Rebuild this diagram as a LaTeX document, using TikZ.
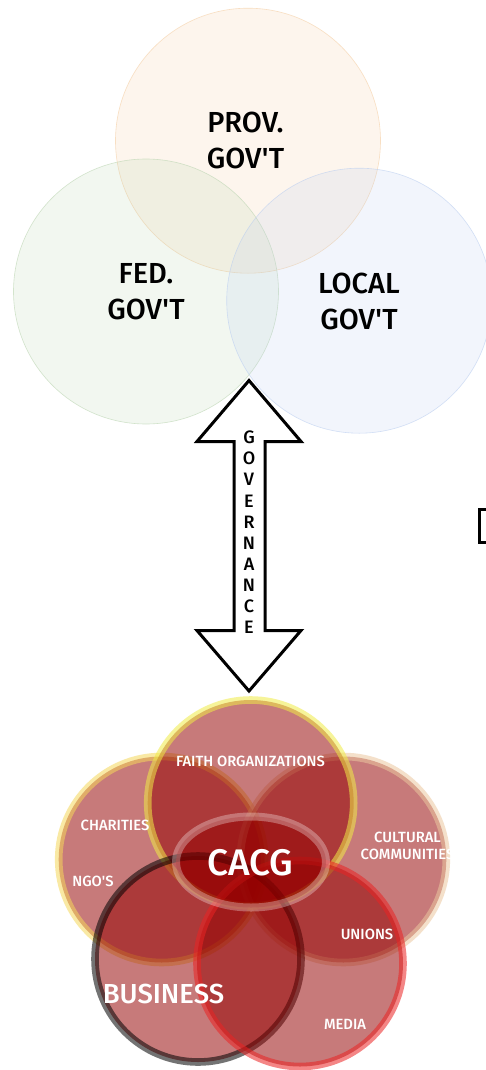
\documentclass[tikz,border=0pt]{standalone}
\usepackage{fontspec}
\usetikzlibrary{shapes.geometric}
\newfontfamily\fs{Fira Sans Medium}
\definecolor{redfill}{RGB}{148,0,0}
\definecolor{cprov}{RGB}{245,205,160}
\definecolor{cfed}{RGB}{185,212,175}
\definecolor{cloc}{RGB}{185,205,240}
\definecolor{rchar}{RGB}{245,215,90}
\definecolor{rcult}{RGB}{235,200,160}
\definecolor{rfaith}{RGB}{240,235,70}
\definecolor{rmedia}{RGB}{235,35,35}
\tikzset{
  x=1pt,y=-1pt,
  govc/.style={circle,minimum size=265pt,inner sep=0pt,outer sep=0pt,draw=#1,line width=0.6pt,draw opacity=.6,fill=#1,fill opacity=.18},
  civ/.style={circle,minimum size=206pt,inner sep=0pt,outer sep=0pt,line width=7.6pt,draw=#1,draw opacity=.55,fill=redfill,fill opacity=.52},
  govt/.style={align=center,font=\fs\fontsize{29}{36}\selectfont,text=black},
  civt/.style={text=white,align=center,font=\fs\fontsize{14.8}{17.5}\selectfont},
  arr/.style={draw=black,line width=3pt,miter limit=10,fill=white},
}
\begin{document}
\begin{tikzpicture}
\useasboundingbox (0,0) rectangle (486,1070);
\fill[white] (0,0) rectangle (486,1070);
\node[govc=cprov] (prov) at (248,140.7) {};
\node[govc=cfed] (fed) at (146,291.5) {};
\node[govc=cloc] (local) at (359.2,300.7) {};
\node[govt] at (245.5,140) {PROV.\\GOV'T};
\node[govt] at (146,292) {FED.\\GOV'T};
\node[govt] at (359,301) {LOCAL\\GOV'T};
\draw[arr] (249,380.5) -- (301,441.5) -- (265,441.5) -- (265,630.5) -- (301,630.5) -- (249,691) -- (197,630.5) -- (234,630.5) -- (234,441.5) -- (197,441.5) -- cycle;
\foreach \l [count=\i from 0] in {G,O,V,E,R,N,A,N,C,E}
  \node[font=\fs\fontsize{18}{18}\selectfont,inner sep=0pt] at (249,437.5+21.1*\i) {\l};
\draw[black,line width=3pt] (486,509.5) -- (479.5,509.5) -- (479.5,542) -- (486,542);
\node[civ=rchar] (char) at (161.7,859.5) {};
\node[civ=rcult] (cult) at (343.3,859.5) {};
\node[civ=rfaith] (faith) at (250.7,803) {};
\node[civ=black] (biz) at (198,959) {};
\node[civ=rmedia] (media) at (300,963.5) {};
\node[ellipse,minimum width=150pt,minimum height=91pt,inner sep=0pt,outer sep=0pt,line width=8pt,draw=white,draw opacity=.3,fill=redfill,fill opacity=.52] (cacg) at (251,862) {};
\node[civt] at (250.5,761) {FAITH ORGANIZATIONS};
\node[civt] at (115,825) {CHARITIES};
\node[civt] at (93,881) {NGO'S};
\node[civt] at (407.5,846) {CULTURAL\\COMMUNITIES};
\node[civt] at (367,934) {UNIONS};
\node[civt] at (345,1024.5) {MEDIA};
\node[text=white,font=\fs\fontsize{27.5}{30}\selectfont] at (163.5,994) {BUSINESS};
\node[text=white,font=\fs\fontsize{37}{40}\selectfont] at (250.5,863) {CACG};
\end{tikzpicture}
\end{document}
